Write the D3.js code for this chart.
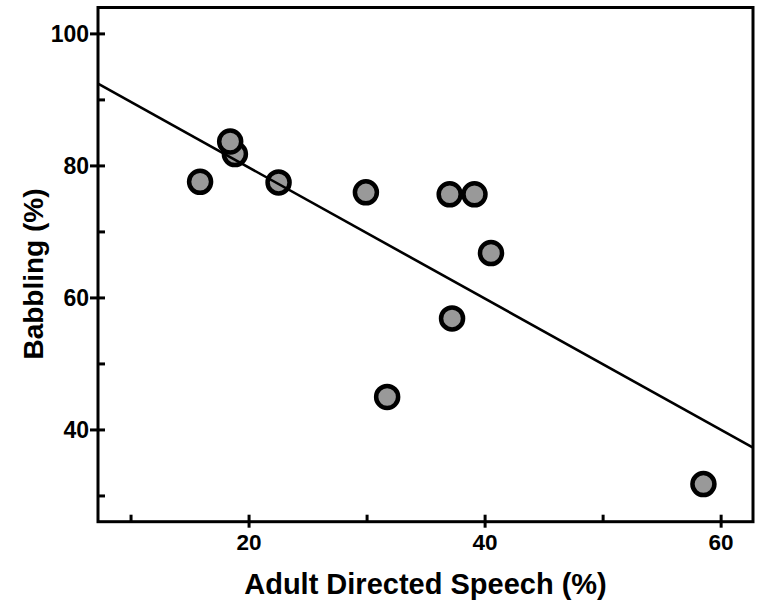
<!DOCTYPE html>
<html>
<meta charset="utf-8">
<head>
    <script src="https://d3js.org/d3.v7.min.js"></script>
<style>
    body { margin: 0; background: #fff; }
    svg text { font-family: "Liberation Sans", Arial, sans-serif; font-weight: bold; fill: #000; }
    .pt { fill: #999999; stroke: #000; stroke-width: 4.5px; }
    .fit { fill: none; stroke: #000; stroke-width: 2.6px; }
    .frame { fill: none; stroke: #000; stroke-width: 3px; }
</style>
</head>
<body>
<div id="div">
<script>
    // data: adult directed speech (%) vs babbling (%)
    var adultSpeech = [15.85, 18.8, 18.4, 22.5, 29.9, 37.0, 39.1, 40.5, 37.2, 31.7, 58.5];
    var babbling    = [77.6, 81.8, 83.7, 77.5, 76.0, 75.7, 75.7, 66.8, 56.9, 45.0, 31.8];

    // fitted line: babbling = intercept + slope * speech
    var fitIntercept = 99.6;
    var fitSlope = -0.993;

    var xTicks = [20, 40, 60], xMinor = [10, 30, 50];
    var yTicks = [40, 60, 80, 100], yMinor = [30, 50, 70, 90];

    var margin = {top: 7.5, right: 4, bottom: 81.3, left: 98},
        width = 757 - margin.left - margin.right,
        height = 603 - margin.top - margin.bottom;

    var x = d3.scaleLinear().domain([7.2, 62.7]).range([0, width]);
    var y = d3.scaleLinear().domain([26.1, 104]).range([height, 0]);

    var svg = d3.select("#div").append("svg")
        .attr("width", 757)
        .attr("height", 603)
      .append("g")
        .attr("transform", "translate(" + margin.left + "," + margin.top + ")");

    var data = adultSpeech.map(function(d, i) { return {x: d, y: babbling[i]}; });

    // points first, regression line over them
    svg.selectAll(".pt")
        .data(data)
        .enter().append("circle")
        .attr("class", "pt")
        .attr("r", 11)
        .attr("cx", function(d) { return x(d.x); })
        .attr("cy", function(d) { return y(d.y); });

    var xd = x.domain();
    svg.append("line")
        .attr("class", "fit")
        .attr("x1", x(xd[0])).attr("y1", y(fitIntercept + fitSlope * xd[0]))
        .attr("x2", x(xd[1])).attr("y2", y(fitIntercept + fitSlope * xd[1]));

    // frame
    svg.append("rect")
        .attr("class", "frame")
        .attr("width", width)
        .attr("height", height);

    // x axis ticks
    svg.selectAll(".xmaj").data(xTicks).enter().append("line")
        .attr("x1", x).attr("x2", x)
        .attr("y1", height - 7).attr("y2", height + 6)
        .attr("stroke", "#000").attr("stroke-width", 3);
    svg.selectAll(".xmin").data(xMinor).enter().append("line")
        .attr("x1", x).attr("x2", x)
        .attr("y1", height - 7).attr("y2", height)
        .attr("stroke", "#000").attr("stroke-width", 3);
    svg.selectAll(".xlab").data(xTicks).enter().append("text")
        .attr("x", x)
        .attr("y", height + 28.5)
        .attr("text-anchor", "middle")
        .style("font-size", "22.5px")
        .text(function(d) { return d; });

    // y axis ticks
    svg.selectAll(".ymaj").data(yTicks).enter().append("line")
        .attr("y1", y).attr("y2", y)
        .attr("x1", -8).attr("x2", 7)
        .attr("stroke", "#000").attr("stroke-width", 3);
    svg.selectAll(".ymin").data(yMinor).enter().append("line")
        .attr("y1", y).attr("y2", y)
        .attr("x1", 0).attr("x2", 7)
        .attr("stroke", "#000").attr("stroke-width", 3);
    svg.selectAll(".ylab").data(yTicks).enter().append("text")
        .attr("x", -9)
        .attr("y", y)
        .attr("dy", "0.36em")
        .attr("text-anchor", "end")
        .style("font-size", "23px")
        .text(function(d) { return d; });

    // axis titles
    svg.append("text")
        .attr("x", width / 2)
        .attr("y", 594 - margin.top)
        .attr("text-anchor", "middle")
        .style("font-size", "29px")
        .text("Adult Directed Speech (%)");

    svg.append("text")
        .attr("transform", "translate(" + (43 - margin.left) + "," + (274 - margin.top) + ") rotate(-90)")
        .attr("text-anchor", "middle")
        .style("font-size", "28px")
        .text("Babbling (%)");
</script>
</div>
</body>
</html>
